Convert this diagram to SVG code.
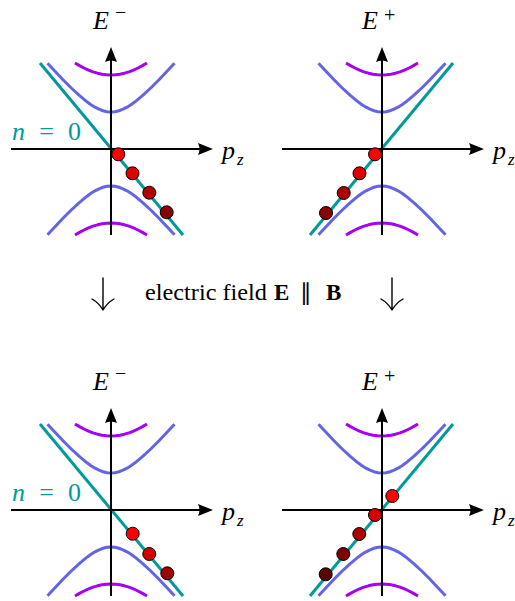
<svg xmlns="http://www.w3.org/2000/svg" xmlns:xlink="http://www.w3.org/1999/xlink" width="515" height="601" viewBox="0 0 515 601">
<style>
.ax{fill:none;stroke:#000;stroke-width:2}
.ah{fill:#000;stroke:none}
.blue{fill:none;stroke:#6464e6;stroke-width:3;stroke-linejoin:round;stroke-linecap:butt}
.pur{fill:none;stroke:#a600f4;stroke-width:3;stroke-linejoin:round}
.teal{fill:none;stroke:#009a9a;stroke-width:3}
.dot{stroke:#000;stroke-width:1}
.lab{font-family:"Liberation Serif","Times New Roman",serif;font-size:26px;fill:#000}
.it{font-style:italic}
.sup{font-size:20px}
.tl{fill:#009a9a;font-size:26px}
.mid{font-family:"Liberation Serif","Times New Roman",serif;font-size:23px;fill:#000}
.b{font-weight:bold}
.darr{fill:none;stroke:#000;stroke-width:1.4;stroke-linecap:round}
</style>
<defs>
<g id="base">
<polyline class="pur" points="-36,-86.05 -31.5,-83.38 -27,-81 -22.5,-78.93 -18,-77.19 -13.5,-75.81 -9,-74.81 -4.5,-74.2 0,-74 4.5,-74.2 9,-74.81 13.5,-75.81 18,-77.19 22.5,-78.93 27,-81 31.5,-83.38 36,-86.05"/>
<polyline class="pur" points="-36,86.05 -31.5,83.38 -27,81 -22.5,78.93 -18,77.19 -13.5,75.81 -9,74.81 -4.5,74.2 0,74 4.5,74.2 9,74.81 13.5,75.81 18,77.19 22.5,78.93 27,81 31.5,83.38 36,86.05"/>
<polyline class="blue" points="-63.5,-85.85 -56,-77.7 -48,-69.27 -40,-61.24 -32,-53.79 -24,-47.18 -20,-44.32 -16,-41.83 -12,-39.79 -8,-38.27 -4,-37.32 0,-37 4,-37.32 8,-38.27 12,-39.79 16,-41.83 20,-44.32 24,-47.18 32,-53.79 40,-61.24 48,-69.27 56,-77.7 63.5,-85.85"/>
<polyline class="blue" points="-63.5,85.85 -56,77.7 -48,69.27 -40,61.24 -32,53.79 -24,47.18 -20,44.32 -16,41.83 -12,39.79 -8,38.27 -4,37.32 0,37 4,37.32 8,38.27 12,39.79 16,41.83 20,44.32 24,47.18 32,53.79 40,61.24 48,69.27 56,77.7 63.5,85.85"/>
</g>
<g id="axes">
<line class="ax" x1="-100" y1="0" x2="92" y2="0"/>
<path class="ah" d="M102,0 L87,-6 Q90,0 87,6 Z"/>
<line class="ax" x1="0" y1="86" x2="0" y2="-92"/>
<path class="ah" d="M0,-102 L6,-87 Q0,-90 -6,-87 Z"/>
<text class="lab it" x="111" y="10">p</text>
<text class="lab it" x="126" y="16" style="font-size:17px">z</text>
</g>
</defs>

<g id="panel-top-left" transform="translate(111,149)">
<use xlink:href="#base"/>
<path class="teal" d="M-71,-86 L72,86"/>
<use xlink:href="#axes"/>
<text class="lab it" x="-18" y="-120">E</text>
<text class="lab sup" x="4" y="-130">−</text>
<text class="lab tl" x="-99" y="-9" textLength="69" lengthAdjust="spacing"><tspan class="it">n</tspan> = 0</text>
<circle class="dot" cx="7.3" cy="5.3" r="6.5" fill="#ff0000"/>
<circle class="dot" cx="21.5" cy="24.3" r="6.5" fill="#dd0000"/>
<circle class="dot" cx="38.3" cy="43.7" r="6.5" fill="#b00000"/>
<circle class="dot" cx="55.7" cy="63.3" r="6.5" fill="#880000"/>
</g>

<g id="panel-top-right" transform="translate(382,149)">
<use xlink:href="#base"/>
<path class="teal" d="M71,-86 L-72,86"/>
<use xlink:href="#axes"/>
<text class="lab it" x="-20" y="-120">E</text>
<text class="lab sup" x="2" y="-127">+</text>
<circle class="dot" cx="-7" cy="5.3" r="6.5" fill="#ff0000"/>
<circle class="dot" cx="-22.5" cy="24.3" r="6.5" fill="#dd0000"/>
<circle class="dot" cx="-38.3" cy="44" r="6.5" fill="#b00000"/>
<circle class="dot" cx="-56" cy="64" r="6.5" fill="#880000"/>
</g>

<g id="transition">
<path class="darr" d="M103,278 V310 M92,299 Q99,303 103,310 M114,299 Q107,303 103,310"/>
<path class="darr" d="M392,278 V310 M381,299 Q388,303 392,310 M403,299 Q396,303 392,310"/>
<text class="mid" x="145" y="300" textLength="122" lengthAdjust="spacingAndGlyphs">electric field</text>
<text class="mid b" x="274" y="300">E</text>
<text class="mid" x="300" y="300">∥</text>
<text class="mid b" x="326" y="300">B</text>
</g>

<g id="panel-bottom-left" transform="translate(111,510)">
<use xlink:href="#base"/>
<path class="teal" d="M-71,-86 L72,86"/>
<use xlink:href="#axes"/>
<text class="lab it" x="-18" y="-120">E</text>
<text class="lab sup" x="4" y="-130">−</text>
<text class="lab tl" x="-99" y="-9" textLength="69" lengthAdjust="spacing"><tspan class="it">n</tspan> = 0</text>
<circle class="dot" cx="21.7" cy="23.7" r="6.5" fill="#ff0000"/>
<circle class="dot" cx="38.3" cy="44" r="6.5" fill="#d20000"/>
<circle class="dot" cx="56.3" cy="63.3" r="6.5" fill="#a00000"/>
</g>

<g id="panel-bottom-right" transform="translate(382,510)">
<use xlink:href="#base"/>
<path class="teal" d="M71,-86 L-72,86"/>
<use xlink:href="#axes"/>
<text class="lab it" x="-20" y="-120">E</text>
<text class="lab sup" x="2" y="-127">+</text>
<circle class="dot" cx="10.3" cy="-14" r="6.5" fill="#ff0000"/>
<circle class="dot" cx="-7" cy="5" r="6.5" fill="#d80000"/>
<circle class="dot" cx="-22.7" cy="24" r="6.5" fill="#aa0000"/>
<circle class="dot" cx="-38.7" cy="44" r="6.5" fill="#800000"/>
<circle class="dot" cx="-56.3" cy="64.3" r="6.5" fill="#5a0000"/>
</g>
</svg>
